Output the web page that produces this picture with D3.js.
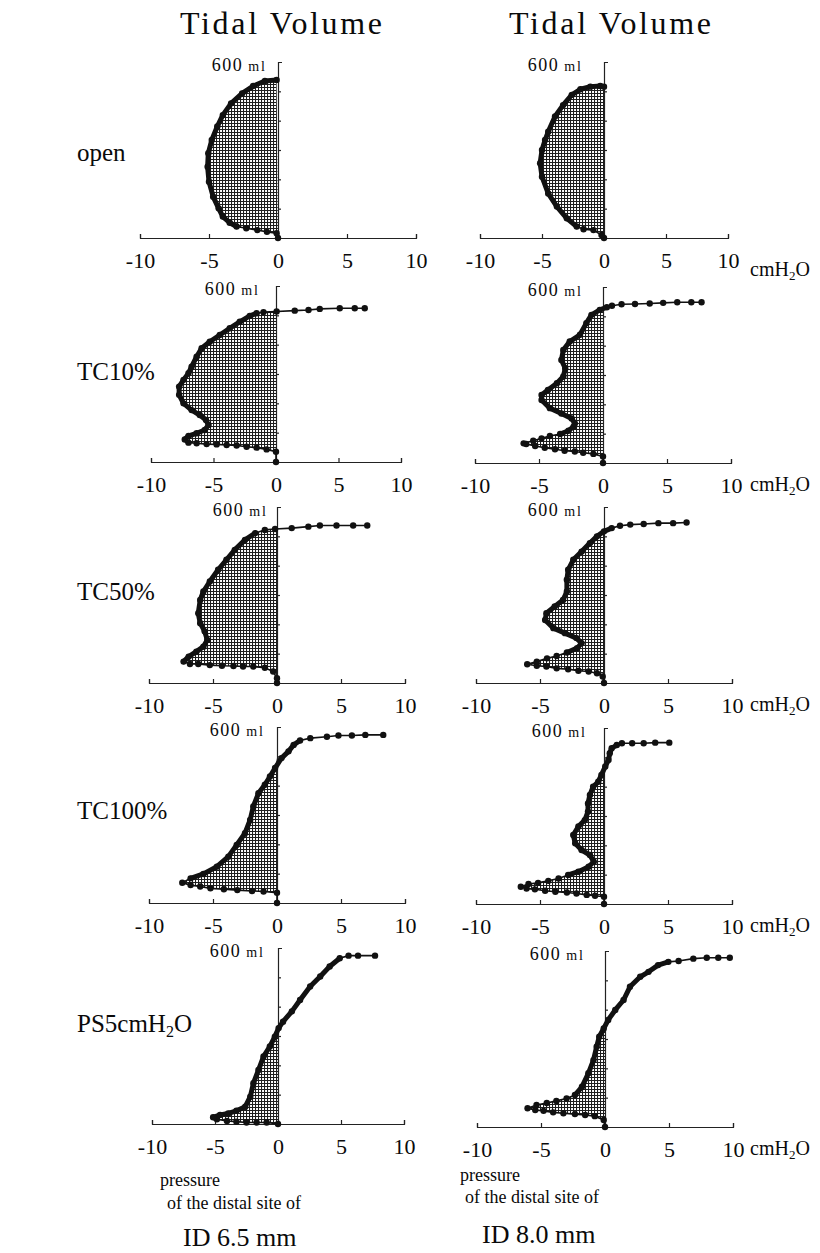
<!DOCTYPE html>
<html>
<head>
<meta charset="utf-8">
<script src="https://cdnjs.cloudflare.com/ajax/libs/d3/7.8.5/d3.min.js"></script>
<style>
body { margin: 0; background: #fff; }
text { font-family: "Liberation Serif", "DejaVu Serif", serif; fill: #0a0a0a; }
</style>
</head>
<body>
<div id="chart"></div>
<script>

var rows = ["open", "TC10%", "TC50%", "TC100%", "PS5cmH2O"];
var tubes = ["ID 6.5 mm", "ID 8.0 mm"];
var xTicks = [-10, -5, 0, 5, 10];
var yTicks = [100, 200, 300, 400, 500];

// [pressure cmH2O, volume ml]
var open65 = [[0,0],[-0.1,16],[-0.8,21],[-1.5,27],[-2.3,33],[-3.0,39],[-3.5,52],[-4.0,73],[-4.3,101],[-4.7,141],
  [-5.0,192],[-5.1,243],[-5.05,289],[-4.8,334],[-4.4,380],[-4.0,419],[-3.4,459],[-2.6,493],[-1.8,518],[-0.95,535],[-0.1,539]];
var open80 = [[0,0],[-0.2,10],[-0.85,27],[-1.65,30],[-2.2,39],[-3.0,67],[-3.8,107],[-4.5,152],[-5.0,209],[-5.15,255],
  [-5.0,300],[-4.75,334],[-4.5,362],[-3.95,414],[-3.3,453],[-2.6,488],[-1.9,507],[-1.1,516],[-0.3,518],[0,516]];
var tc10_65 = [[0,0],[0,35],[-0.75,43],[-1.55,49],[-2.35,52],[-3.15,56],[-3.95,58],[-4.75,60],[-5.55,61],[-6.35,64],
  [-7.0,66],[-7.3,77],[-7.0,89],[-6.35,98],[-5.7,109],[-5.4,126],[-5.6,143],[-6.1,160],[-6.75,177],[-7.4,200],
  [-7.75,229],[-7.75,257],[-7.4,280],[-7.0,303],[-6.75,325],[-6.35,359],[-5.95,388],[-5.3,410],[-4.5,433],[-3.7,456],
  [-2.9,478],[-2.1,498],[-1.55,507],[-1.0,511],[0.05,513],[1.5,516],[2.6,518],[3.5,522],[5.1,524],[6.3,524],[7.1,524]];
var tc10_80 = [[0,0],[0,22],[-0.75,31],[-1.55,35],[-2.2,39],[-3.0,42],[-3.75,47],[-4.55,52],[-5.3,58],[-6.0,65],
  [-6.2,67],[-5.45,76],[-4.8,84],[-4.15,92],[-3.35,99],[-2.7,110],[-2.3,124],[-2.2,135],[-2.45,152],[-3.25,169],
  [-4.15,187],[-4.8,215],[-4.8,232],[-4.3,249],[-3.6,272],[-3.1,295],[-2.95,323],[-3.25,351],[-3.1,385],[-2.6,414],
  [-1.8,437],[-1.3,477],[-0.9,505],[-0.25,522],[0.3,531],[0.7,536],[1.45,541],[2.5,542],[3.65,544],[4.7,546],
  [5.8,548],[6.9,548],[7.7,548]];
var tc50_65 = [[0,0],[0,16],[-0.3,39],[-0.95,52],[-1.85,56],[-2.65,56],[-3.4,58],[-4.3,59],[-5.25,61],[-6.15,65],
  [-6.8,65],[-7.3,73],[-6.9,90],[-6.3,107],[-5.75,124],[-5.45,147],[-5.65,176],[-6.0,204],[-6.15,238],[-6.0,283],
  [-5.75,312],[-5.25,346],[-4.6,386],[-3.95,420],[-3.3,454],[-2.5,488],[-1.7,511],[-0.95,522],[-0.15,525],[1.15,528],
  [2.45,533],[3.35,537],[4.65,537],[5.95,537],[7.05,537]];
var tc50_80 = [[0,0],[-0.1,22],[-0.55,33],[-1.2,39],[-2.0,42],[-2.8,47],[-3.7,50],[-4.5,56],[-5.25,59],[-6.0,64],
  [-5.25,73],[-4.45,84],[-3.7,92],[-2.9,104],[-2.1,119],[-1.75,136],[-2.15,153],[-3.05,170],[-3.95,187],[-4.6,215],
  [-4.5,238],[-3.85,261],[-3.2,283],[-2.9,312],[-2.9,352],[-2.8,386],[-2.4,420],[-1.75,448],[-1.1,477],[-0.55,500],
  [0,517],[0.6,528],[1.25,536],[2.05,540],[3.1,542],[4.25,545],[5.4,545],[6.45,547]];
var tc100_65 = [[0,0],[0,35],[-1.05,39],[-1.95,41],[-3.1,44],[-4.15,47],[-5.2,50],[-6.0,56],[-6.75,61],[-7.4,69],
  [-6.75,84],[-5.75,99],[-4.7,124],[-3.8,158],[-3.15,198],[-2.5,238],[-2.1,283],[-1.85,329],[-1.45,374],[-0.95,403],
  [-0.55,431],[-0.15,460],[0.35,494],[0.9,517],[1.3,539],[1.8,554],[2.6,562],[3.9,567],[4.8,571],[5.85,571],
  [6.9,573],[8.3,573]];
var tc100_80 = [[0,0],[0,25],[-0.7,28],[-1.35,31],[-2.15,36],[-2.9,39],[-3.8,42],[-4.6,45],[-5.4,50],[-6.05,53],
  [-6.5,59],[-5.9,68],[-5.15,72],[-4.35,79],[-3.55,87],[-2.8,99],[-2.0,110],[-1.2,127],[-0.8,144],[-1.1,167],
  [-1.75,184],[-2.25,207],[-2.4,235],[-2.0,264],[-1.5,286],[-1.25,315],[-1.25,343],[-1.1,372],[-0.85,400],[-0.45,417],
  [-0.2,440],[0.1,469],[0.35,491],[0.45,514],[0.6,531],[1.0,542],[1.4,548],[2.2,548],[3.1,548],[4.0,550],[5.1,550]];
var ps5_65 = [[0,0],[-0.9,5],[-1.7,5],[-2.5,5],[-3.3,8],[-4.05,10],[-4.85,16],[-5.15,23],[-4.6,31],[-3.95,36],
  [-3.3,45],[-2.6,59],[-2.2,93],[-1.95,139],[-1.55,184],[-1.15,230],[-0.65,264],[-0.25,298],[0.05,327],[0.4,349],
  [1.1,384],[1.75,423],[2.55,469],[3.35,503],[4.1,537],[4.9,565],[5.6,574],[6.35,574],[7.7,574]];
var ps5_80 = [[0,0],[-0.1,24],[-0.8,37],[-1.55,41],[-2.35,44],[-3.25,47],[-4.05,50],[-4.8,55],[-5.45,58],[-6.05,64],
  [-5.35,75],[-4.55,82],[-3.8,89],[-3.0,97],[-2.35,109],[-1.8,137],[-1.3,183],[-0.9,228],[-0.65,274],[-0.45,308],
  [-0.1,336],[0.25,365],[0.8,399],[1.45,433],[1.95,478],[2.75,512],[3.4,529],[4.15,552],[4.95,563],[5.75,566],
  [6.9,574],[7.95,577],[8.85,577],[9.75,577]];

var loops = [[open65, open80], [tc10_65, tc10_80], [tc50_65, tc50_80], [tc100_65, tc100_80], [ps5_65, ps5_80]];

// index range drawn as the heavy trace
var heavy = [[[5,20],[4,19]], [[10,32],[14,34]], [[11,26],[13,31]], [[10,25],[15,35]], [[6,25],[14,28]]];

// panel placement: pixel of -10, pixel of +10, baseline y, gap of "600 ml" label
var place = [
  [[140,416,238,11], [480,728,238,21]],
  [[151,401,462,16], [475,731,463,20]],
  [[149,405,683,9],  [476,732,683,21]],
  [[149,405,903,12], [476,732,904,17]],
  [[152,404,1124,13],[477,733,1127,20]]
];
var rowLabelY = [161, 380, 600, 819, 1032];

var width = 820, height = 1253;

var svg = d3.select("#chart").append("svg")
  .attr("width", width)
  .attr("height", height);

var defs = svg.append("defs");
var pat = defs.append("pattern")
  .attr("id", "grid")
  .attr("patternUnits", "userSpaceOnUse")
  .attr("width", 3).attr("height", 3);
pat.append("rect").attr("width", 3).attr("height", 3).attr("fill", "#fff");
pat.append("path").attr("d", "M0,0.5H3M0.5,0V3").attr("stroke", "#1e1e1e").attr("stroke-width", 1.1);

// column titles
svg.selectAll(".title")
  .data([281, 610])
  .enter().append("text")
  .attr("x", function(d){ return d; })
  .attr("y", 34)
  .attr("text-anchor", "middle")
  .attr("font-size", 32)
  .attr("textLength", 202)
  .attr("lengthAdjust", "spacing")
  .text("Tidal Volume");

// row labels
rows.forEach(function(r, i){
  var t = svg.append("text")
    .attr("x", 77)
    .attr("y", rowLabelY[i])
    .attr("font-size", 25);
  if (r == "PS5cmH2O") {
    t.append("tspan").text("PS5cmH");
    t.append("tspan").attr("font-size", 16).attr("dy", 5).text("2");
    t.append("tspan").attr("dy", -5).text("O");
  } else {
    t.text(r);
  }
});

var lineFn = d3.line();

loops.forEach(function(pair, i){
  pair.forEach(function(data, j){
    var p = place[i][j];
    var x = d3.scaleLinear().domain([-10, 10]).range([p[0], p[1]]);
    var y = d3.scaleLinear().domain([0, 600]).range([p[2], p[2] - 176]);
    var g = svg.append("g");

    // shaded area between the loop and the zero-pressure axis
    var area = data.map(function(d){ return [x(Math.min(d[0], 0)), y(d[1])]; });
    g.append("path")
      .attr("d", lineFn(area) + "Z")
      .attr("fill", "url(#grid)")
      .attr("stroke", "none");

    var xa = g.append("g")
      .attr("transform", "translate(0," + p[2] + ")")
      .call(d3.axisBottom(x).tickValues(xTicks)
        .tickSizeInner(-4).tickSizeOuter(-4).tickPadding(14)
        .tickFormat(function(d){ return String(d); }));
    xa.attr("font-family", null).attr("font-size", 22);
    xa.selectAll("path, line").attr("stroke", "#222").attr("stroke-width", 1.2);
    xa.selectAll("text").attr("fill", "#0a0a0a");

    var ya = g.append("g")
      .attr("transform", "translate(" + x(0) + ",0)")
      .call(d3.axisRight(y).tickValues(yTicks)
        .tickSizeInner(3).tickSizeOuter(4).tickFormat(""));
    ya.selectAll("path, line").attr("stroke", "#222").attr("stroke-width", 1.2);

    var lab = g.append("text")
      .attr("x", x(0) - p[3])
      .attr("y", y(600) + 9)
      .attr("text-anchor", "end");
    lab.append("tspan").attr("font-size", 18).attr("letter-spacing", 1.5).text("600");
    lab.append("tspan").attr("font-size", 14).attr("dx", 5).attr("letter-spacing", 2).text("ml");

    if (j == 1) {
      var u = g.append("text")
        .attr("x", 750)
        .attr("y", p[2] + (i == 0 ? 38 : 28))
        .attr("font-size", 20);
      u.append("tspan").text("cmH");
      u.append("tspan").attr("font-size", 13).attr("dy", 4).text("2");
      u.append("tspan").attr("dy", -4).text("O");
    }

    var pts = data.map(function(d){ return [x(d[0]), y(d[1])]; });
    g.append("path")
      .attr("d", lineFn(pts))
      .attr("fill", "none")
      .attr("stroke", "#111")
      .attr("stroke-width", 1.6);
    var h = heavy[i][j];
    g.append("path")
      .attr("d", lineFn(pts.slice(h[0], h[1] + 1)))
      .attr("fill", "none")
      .attr("stroke", "#111")
      .attr("stroke-width", 5)
      .attr("stroke-linejoin", "round")
      .attr("stroke-linecap", "round");
    g.selectAll(".dot")
      .data(data)
      .enter().append("circle")
      .attr("class", "dot")
      .attr("cx", function(d){ return x(d[0]); })
      .attr("cy", function(d){ return y(d[1]); })
      .attr("r", 3.2)
      .attr("fill", "#111");
  });
});

// bottom captions
var caps = [
  {x: 160, y: 1186, s: 18, t: "pressure"},
  {x: 167, y: 1209, s: 18, t: "of the distal site of"},
  {x: 183, y: 1246, s: 26, t: tubes[0]},
  {x: 460, y: 1181, s: 18, t: "pressure"},
  {x: 465, y: 1203, s: 18, t: "of the distal site of"},
  {x: 482, y: 1243, s: 26, t: tubes[1]}
];
svg.selectAll(".cap")
  .data(caps)
  .enter().append("text")
  .attr("class", "cap")
  .attr("x", function(d){ return d.x; })
  .attr("y", function(d){ return d.y; })
  .attr("font-size", function(d){ return d.s; })
  .text(function(d){ return d.t; });

</script>
</body>
</html>
